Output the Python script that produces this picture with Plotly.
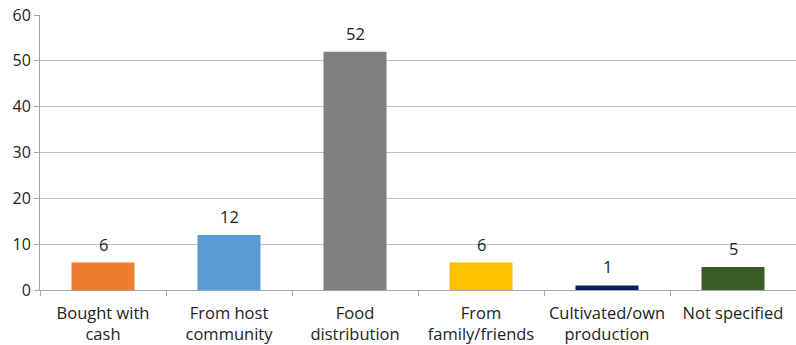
import plotly.graph_objects as go

categories = ["Bought with<br>cash", "From host<br>community", "Food<br>distribution",
              "From<br>family/friends", "Cultivated/own<br>production", "Not specified"]
values = [6, 12, 52, 6, 1, 5]
colors = ["#ED7D31", "#5B9BD5", "#808080", "#FFC000", "#002060", "#3A5B24"]
y_ticks = [0, 10, 20, 30, 40, 50, 60]

font_family = "Open Sans, Liberation Sans, sans-serif"
text_color = "#222222"

fig = go.Figure(go.Bar(
    x=categories, y=values,
    marker=dict(color=colors, line=dict(width=0)),
    width=0.5,
    hoverinfo="x+y",
))

# value labels above each bar
for cat, v in zip(categories, values):
    fig.add_annotation(
        x=cat, y=v, text=str(v), showarrow=False,
        yanchor="bottom", yshift=5,
        font=dict(size=16.5, color=text_color, family=font_family),
    )

fig.update_layout(
    width=796, height=345,
    margin=dict(l=40, r=0, t=15, b=55),
    plot_bgcolor="white", paper_bgcolor="white",
    showlegend=False,
    font=dict(family=font_family, size=16, color=text_color),
)
fig.update_xaxes(
    showgrid=False, showline=True, linecolor="#a6a6a6", linewidth=1,
    ticks="outside", tickson="boundaries", ticklen=5, tickcolor="#a6a6a6",
    tickfont=dict(size=16.5, color=text_color), ticklabelstandoff=8,
)
fig.update_yaxes(
    range=[0, 60], tickvals=y_ticks, showgrid=True, gridcolor="#bfbfbf", gridwidth=1,
    showline=True, linecolor="#a6a6a6", linewidth=1,
    ticks="outside", ticklen=5, tickcolor="#a6a6a6",
    tickfont=dict(size=16, color=text_color), zeroline=False,
)

fig.write_html("out.html")
